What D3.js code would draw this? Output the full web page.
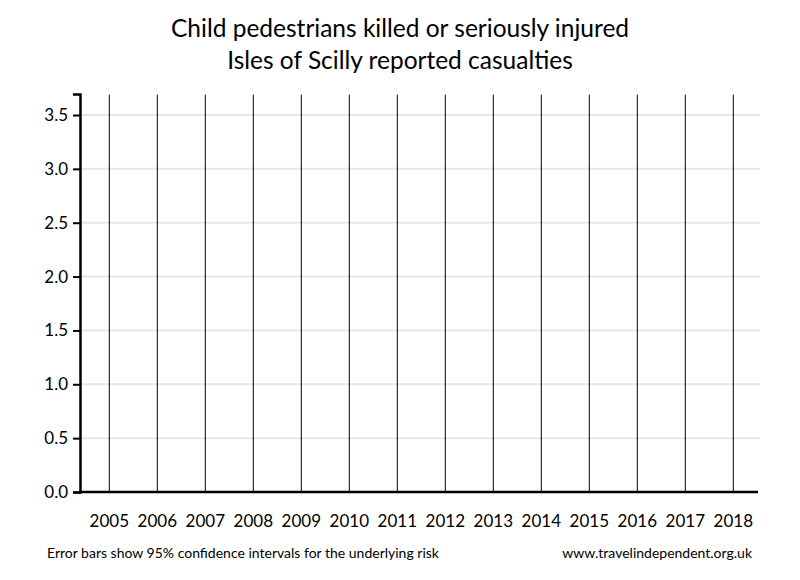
<!DOCTYPE html>
<html>
<head>
<meta charset="utf-8">
<script src="https://cdn.jsdelivr.net/npm/d3@7"></script>
<style>
  html, body { margin: 0; padding: 0; background: #fff; }
  svg { display: block; font-family: Lato, "Open Sans", sans-serif; }
</style>
</head>
<body>
<svg id="chart" width="800" height="580"></svg>
<script>
const years = ["2005","2006","2007","2008","2009","2010","2011","2012","2013","2014","2015","2016","2017","2018"];
const values = [0,0,0,0,0,0,0,0,0,0,0,0,0,0];
const lowerCI = [0,0,0,0,0,0,0,0,0,0,0,0,0,0];
const upperCI = [3.689,3.689,3.689,3.689,3.689,3.689,3.689,3.689,3.689,3.689,3.689,3.689,3.689,3.689];
const yTicks = [0, 0.5, 1.0, 1.5, 2.0, 2.5, 3.0, 3.5];
const titleLines = ["Child pedestrians killed or seriously injured", "Isles of Scilly reported casualties"];
const footLeft = "Error bars show 95% confidence intervals for the underlying risk";
const footRight = "www.travelindependent.org.uk";

const svg = d3.select("#chart");
const axisX = 80, plotRight = 760, plotTop = 94, plotBottom = 492;

const x = d3.scaleBand().domain(years).range([85.3, 757.3]);
const y = d3.scaleLinear().domain([0, 3.695]).range([plotBottom, plotTop]);

// title
svg.append("g").selectAll("text").data(titleLines).join("text")
  .attr("x", 400).attr("y", (d, i) => 37 + i * 32)
  .attr("text-anchor", "middle")
  .attr("font-size", 24.5).attr("fill", "#000")
  .text(d => d);

// gridlines
svg.append("g").selectAll("line").data(yTicks.filter(t => t > 0)).join("line")
  .attr("x1", axisX).attr("x2", plotRight)
  .attr("y1", d => y(d)).attr("y2", d => y(d))
  .attr("stroke", "#e6e6e6").attr("stroke-width", 2);

// error bars
const data = years.map((yr, i) => ({ yr, v: values[i], lo: lowerCI[i], hi: upperCI[i] }));
svg.append("g").selectAll("line").data(data).join("line")
  .attr("x1", d => x(d.yr) + x.bandwidth() / 2).attr("x2", d => x(d.yr) + x.bandwidth() / 2)
  .attr("y1", d => y(d.lo)).attr("y2", d => y(d.hi))
  .attr("stroke", "#000").attr("stroke-width", 1);

// y axis
const yAxis = d3.axisLeft(y).tickValues(yTicks).tickFormat(d3.format(".1f")).tickSizeOuter(0).tickSize(7).tickPadding(5);
const gy = svg.append("g").attr("transform", `translate(${axisX},0)`).call(yAxis);
gy.select(".domain").attr("stroke", "#000").attr("stroke-width", 2.5);
gy.selectAll(".tick line").attr("stroke", "#000").attr("stroke-width", 2);
gy.selectAll(".tick text").attr("font-size", 17).attr("font-family", "Lato, sans-serif").attr("fill", "#000");

// x axis line
svg.append("line").attr("x1", axisX - 1).attr("x2", 758)
  .attr("y1", plotBottom).attr("y2", plotBottom)
  .attr("stroke", "#000").attr("stroke-width", 2.5);

// x labels
svg.append("g").selectAll("text").data(years).join("text")
  .attr("x", d => x(d) + x.bandwidth() / 2).attr("y", 527)
  .attr("text-anchor", "middle").attr("font-size", 17).attr("fill", "#000")
  .text(d => d);

// footer
svg.append("text").attr("x", 47).attr("y", 558).attr("font-size", 14).attr("fill", "#000").text(footLeft);
svg.append("text").attr("x", 752).attr("y", 558).attr("text-anchor", "end").attr("font-size", 14).attr("fill", "#000").text(footRight);
</script>
</body>
</html>
